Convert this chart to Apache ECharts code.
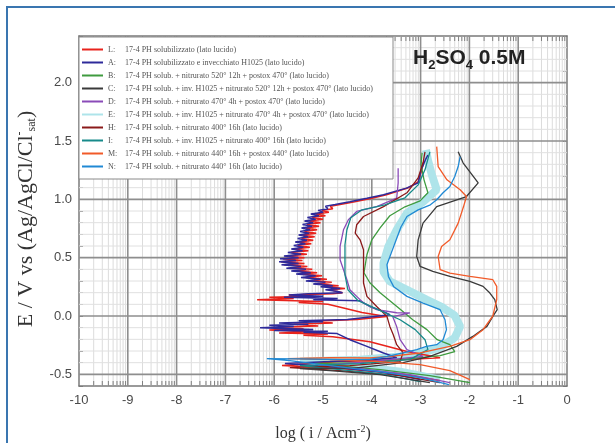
<!DOCTYPE html>
<html lang="it">
<head>
    <meta charset="UTF-8">
    <title>Curve di polarizzazione H2SO4 0.5M</title>
    <script src="https://cdn.jsdelivr.net/npm/echarts@6.0.0/dist/echarts.min.js"></script>
    <style type="text/css">
        html, body {
            margin: 0;
            padding: 0;
            background: #fff;
        }

        #chart {
            width: 615px;
            height: 443px;
        }
    </style>
</head>
<body>
<div id="chart"></div>
<script type="text/javascript">
    // sigle delle curve e testo della legenda
    const seriesNames = ['L', 'A', 'B', 'C', 'D', 'E', 'H', 'I', 'M', 'N'];
    const legendTexts = [
        '17-4 PH solubilizzato (lato lucido)',
        '17-4 PH solubilizzato e invecchiato H1025 (lato lucido)',
        '17-4 PH solub. + nitrurato 520° 12h + postox 470° (lato lucido)',
        '17-4 PH solub. + inv. H1025 + nitrurato 520° 12h + postox 470° (lato lucido)',
        '17-4 PH solub. + nitrurato 470° 4h + postox 470° (lato lucido)',
        '17-4 PH solub. + inv. H1025 + nitrurato 470° 4h + postox 470° (lato lucido)',
        '17-4 PH solub. + nitrurato 400° 16h (lato lucido)',
        '17-4 PH solub. + inv. H1025 + nitrurato 400° 16h (lato lucido)',
        '17-4 PH solub. + nitrurato 440° 16h + postox 440° (lato lucido)',
        '17-4 PH solub. + nitrurato 440° 16h (lato lucido)'
    ];
    const seriesColors = ['#e8231c', '#2e2a9a', '#3f9b3f', '#3a3a3a', '#8a4bb8',
        '#aee4ea', '#8b1a1a', '#178a8a', '#f15a29', '#2089d4'];

    // [log(i / Acm-2), E / V]
    const curveL = [[-2.60, -0.554], [-3.42, -0.494], [-4.65, -0.451], [-5.84, -0.425], [-4.65, -0.391],
        [-3.42, -0.374], [-2.60, -0.357], [-3.28, -0.305], [-4.04, -0.22], [-4.80, -0.177],
        [-5.4, -0.165], [-4.9, -0.155], [-5.9, -0.145], [-5.2, -0.135], [-6.1, -0.12], [-5.4, -0.11],
        [-5.9, -0.095], [-5.1, -0.085], [-5.6, -0.07], [-4.8, -0.06], [-5.2, -0.045], [-4.3, -0.03],
        [-3.7, -0.005], [-4.2, 0.03], [-4.6, 0.07], [-4.9, 0.10],
        [-5.5, 0.115], [-5.0, 0.125], [-6.35, 0.14], [-5.6, 0.15], [-6.1, 0.16], [-5.2, 0.17],
        [-5.7, 0.18], [-4.8, 0.19], [-4.6, 0.20],
        [-4.60, 0.21], [-4.85, 0.225], [-4.55, 0.235], [-4.95, 0.25], [-4.68, 0.26], [-5.10, 0.275],
        [-4.82, 0.29], [-5.25, 0.30], [-4.92, 0.315], [-5.35, 0.33], [-5.02, 0.345], [-5.45, 0.36],
        [-5.12, 0.37], [-5.55, 0.385], [-5.22, 0.40], [-5.68, 0.41], [-5.32, 0.425], [-5.80, 0.44],
        [-5.38, 0.45], [-5.86, 0.465], [-5.42, 0.475], [-5.82, 0.49], [-5.38, 0.50], [-5.74, 0.515],
        [-5.33, 0.53], [-5.65, 0.545], [-5.30, 0.56], [-5.58, 0.575], [-5.27, 0.59], [-5.52, 0.605],
        [-5.24, 0.62], [-5.48, 0.635], [-5.20, 0.65], [-5.44, 0.665], [-5.17, 0.68], [-5.42, 0.695],
        [-5.14, 0.71], [-5.38, 0.725], [-5.12, 0.74], [-5.35, 0.755], [-5.08, 0.77], [-5.33, 0.785],
        [-5.05, 0.80], [-5.28, 0.815], [-5.00, 0.83], [-5.22, 0.845], [-4.95, 0.86], [-5.15, 0.875],
        [-4.88, 0.89], [-5.02, 0.905], [-4.80, 0.92], [-4.85, 0.94], [-4.65, 0.955], [-4.35, 0.98],
        [-4.00, 1.01], [-3.70, 1.04], [-3.25, 1.10], [-3.05, 1.15], [-2.98, 1.25], [-2.93, 1.33]];
    const curveA = [[-3.01, -0.545], [-3.83, -0.477], [-4.86, -0.434], [-5.78, -0.408], [-4.86, -0.391],
        [-4.04, -0.374], [-3.49, -0.357], [-3.76, -0.317], [-4.10, -0.26], [-4.45, -0.203], [-4.71, -0.151],
        [-5.4, -0.14], [-4.9, -0.13], [-6.0, -0.125], [-5.2, -0.115], [-6.29, -0.10], [-5.6, -0.09],
        [-6.1, -0.08], [-5.3, -0.07], [-5.9, -0.06], [-5.0, -0.05], [-5.5, -0.04], [-4.5, -0.03],
        [-3.63, 0.011], [-3.77, 0.04], [-4.04, 0.082], [-4.24, 0.13],
        [-5.2, 0.14], [-4.7, 0.15], [-5.8, 0.16], [-5.0, 0.17], [-5.7, 0.18], [-5.3, 0.19], [-4.6, 0.20],
        [-4.70, 0.21], [-4.95, 0.225], [-4.65, 0.235], [-5.05, 0.25], [-4.80, 0.26], [-5.20, 0.275],
        [-4.95, 0.29], [-5.35, 0.30], [-5.05, 0.315], [-5.45, 0.33], [-5.15, 0.345], [-5.55, 0.36],
        [-5.25, 0.37], [-5.65, 0.385], [-5.35, 0.40], [-5.75, 0.41], [-5.45, 0.425], [-5.85, 0.44],
        [-5.50, 0.45], [-5.90, 0.465], [-5.55, 0.475], [-5.88, 0.49], [-5.50, 0.50], [-5.80, 0.515],
        [-5.45, 0.53], [-5.72, 0.545], [-5.42, 0.56], [-5.65, 0.575], [-5.40, 0.59], [-5.60, 0.605],
        [-5.36, 0.62], [-5.57, 0.635], [-5.33, 0.65], [-5.52, 0.665], [-5.30, 0.68], [-5.50, 0.695],
        [-5.28, 0.71], [-5.47, 0.725], [-5.26, 0.74], [-5.44, 0.755], [-5.22, 0.77], [-5.42, 0.785],
        [-5.20, 0.80], [-5.38, 0.815], [-5.15, 0.83], [-5.32, 0.845], [-5.08, 0.86], [-5.25, 0.875],
        [-5.00, 0.89], [-5.10, 0.905], [-4.90, 0.92], [-4.95, 0.94], [-4.75, 0.955], [-4.45, 0.98],
        [-4.10, 1.01], [-3.76, 1.04], [-3.29, 1.096], [-3.05, 1.141], [-2.99, 1.25], [-2.90, 1.34],
        [-2.85, 1.38]];
    const curveB = [[-1.99, -0.571], [-2.81, -0.511], [-3.83, -0.46], [-5.16, -0.408], [-4.24, -0.40],
        [-3.42, -0.374], [-2.60, -0.34], [-2.30, -0.305], [-2.40, -0.246], [-2.66, -0.203], [-2.87, -0.117],
        [-3.16, -0.032], [-3.48, 0.08], [-3.83, 0.20], [-4.04, 0.285], [-4.16, 0.371], [-4.10, 0.525],
        [-4.00, 0.653], [-3.83, 0.756], [-3.63, 0.859], [-3.32, 0.936], [-3.01, 0.987], [-2.85, 1.056],
        [-2.93, 1.167], [-2.99, 1.296], [-2.97, 1.398]];
    const curveC = [[-2.81, -0.571], [-3.83, -0.502], [-4.86, -0.468], [-5.47, -0.451], [-4.31, -0.445],
        [-3.36, -0.40], [-2.81, -0.346], [-2.26, -0.26], [-1.93, -0.175], [-1.64, -0.089], [-1.52, -0.003],
        [-1.43, 0.054], [-1.48, 0.14], [-1.58, 0.197], [-1.72, 0.254], [-1.99, 0.296], [-2.40, 0.339],
        [-2.75, 0.382], [-3.01, 0.425], [-3.08, 0.51], [-3.05, 0.653], [-2.95, 0.796], [-2.67, 0.938],
        [-2.06, 1.024], [-1.82, 1.141], [-2.13, 1.313], [-2.23, 1.407]];
    const curveD = [[-2.40, -0.571], [-3.22, -0.502], [-4.24, -0.451], [-5.10, -0.425], [-4.04, -0.391],
        [-3.22, -0.357], [-2.95, -0.346], [-3.28, -0.288], [-3.42, -0.203], [-3.49, -0.091], [-3.57, -0.006],
        [-3.22, 0.026], [-3.49, 0.028], [-3.90, 0.054], [-4.17, 0.111], [-4.31, 0.168], [-4.45, 0.225],
        [-4.51, 0.311], [-4.65, 0.482], [-4.65, 0.596], [-4.58, 0.739], [-4.48, 0.825], [-4.31, 0.896],
        [-3.90, 0.938], [-3.49, 1.010], [-3.46, 1.141], [-3.46, 1.267]];
    const curveE = [[-2.60, -0.545], [-3.42, -0.477], [-4.45, -0.425], [-5.47, -0.391], [-4.24, -0.374],
        [-3.22, -0.34], [-2.60, -0.271], [-2.30, -0.186], [-2.19, -0.091], [-2.30, 0.003], [-2.54, 0.071],
        [-2.88, 0.14], [-3.28, 0.225], [-3.63, 0.296], [-3.76, 0.379], [-3.76, 0.454], [-3.66, 0.596],
        [-3.49, 0.739], [-3.28, 0.882], [-2.94, 0.981], [-2.67, 1.082], [-2.77, 1.21], [-2.85, 1.338],
        [-2.89, 1.424]];
    const curveH = [[-2.60, -0.571], [-3.42, -0.511], [-4.65, -0.468], [-5.68, -0.443], [-4.45, -0.425],
        [-3.42, -0.391], [-3.36, -0.314], [-3.49, -0.246], [-3.56, -0.16], [-3.63, -0.089], [-3.69, -0.003],
        [-3.90, 0.082], [-4.10, 0.168], [-4.17, 0.283], [-4.17, 0.425], [-4.17, 0.568], [-4.24, 0.653],
        [-4.34, 0.71], [-4.31, 0.782], [-4.17, 0.853], [-3.76, 0.938], [-3.28, 1.056], [-3.05, 1.184],
        [-2.95, 1.313], [-2.91, 1.407]];
    const curveI = [[-3.01, -0.562], [-3.83, -0.494], [-4.86, -0.451], [-5.47, -0.425], [-4.24, -0.408],
        [-3.22, -0.374], [-2.85, -0.288], [-2.91, -0.203], [-3.11, -0.117], [-3.42, -0.032], [-3.87, 0.054],
        [-4.28, 0.131], [-4.49, 0.225], [-4.55, 0.354], [-4.55, 0.482], [-4.55, 0.611], [-4.51, 0.739],
        [-4.43, 0.842], [-4.20, 0.91], [-3.73, 0.953], [-3.32, 1.013], [-3.05, 1.124], [-2.91, 1.253],
        [-2.81, 1.407]];
    const curveM = [[-1.99, -0.545], [-2.40, -0.468], [-3.01, -0.417], [-3.83, -0.391], [-4.86, -0.374],
        [-5.72, -0.365], [-4.86, -0.357], [-4.04, -0.36], [-3.63, -0.346], [-3.01, -0.317], [-2.40, -0.26],
        [-1.99, -0.203], [-1.72, -0.117], [-1.52, 0.0], [-1.44, 0.14], [-1.44, 0.254], [-1.52, 0.311],
        [-1.99, 0.339], [-2.40, 0.368], [-2.60, 0.397], [-2.64, 0.51], [-2.57, 0.596], [-2.40, 0.653],
        [-2.23, 0.796], [-2.12, 0.938], [-2.06, 1.024], [-2.19, 1.082], [-2.46, 1.167], [-2.64, 1.281],
        [-2.67, 1.452]];
    const curveN = [[-2.42, -0.588], [-3.01, -0.528], [-3.83, -0.477], [-4.86, -0.425], [-5.68, -0.383],
        [-6.15, -0.365], [-5.47, -0.367], [-4.65, -0.374], [-4.04, -0.372], [-3.69, -0.346], [-3.36, -0.317],
        [-3.08, -0.288], [-2.88, -0.26], [-2.67, -0.246], [-2.54, -0.203], [-2.47, -0.117], [-2.50, -0.032],
        [-2.60, 0.054], [-2.95, 0.111], [-3.28, 0.168], [-3.55, 0.25], [-3.66, 0.339], [-3.69, 0.44],
        [-3.60, 0.542], [-3.50, 0.653], [-3.40, 0.765], [-3.28, 0.853], [-3.05, 0.91], [-2.80, 0.953],
        [-2.67, 0.996], [-2.54, 1.056], [-2.40, 1.110], [-2.30, 1.195], [-2.23, 1.281], [-2.19, 1.367]];

    const curves = {L: curveL, A: curveA, B: curveB, C: curveC, D: curveD,
        E: curveE, H: curveH, I: curveI, M: curveM, N: curveN};
    // ordine di disegno (l'ultima sopra)
    const drawOrder = ['E', 'L', 'A', 'B', 'D', 'H', 'I', 'C', 'M', 'N'];

    // griglia logaritmica: linee minori 2..9 per decade, linee 0.1 V, principali 0.5 V e decadi
    const gridMarks = [];
    for (let d = -10; d < 0; d++) {
        for (let k = 2; k <= 9; k++) gridMarks.push([0, d + Math.log10(k)]);
    }
    for (let t = -5; t <= 23; t++) {
        if (t % 5 !== 0) gridMarks.push([1, t / 10]);
    }
    for (let t = -5; t <= 20; t += 5) gridMarks.push([2, t / 10]);
    for (let d = -9; d <= -1; d++) gridMarks.push([3, d]);

    const chart = echarts.init(document.getElementById('chart'), null, {renderer: 'canvas'});

    function renderGrid(params, api) {
        const kind = api.value(0);
        const v = api.value(1);
        if (kind === 0) {
            const p0 = api.coord([v, -0.6]);
            const p1 = api.coord([v, 2.4]);
            return {
                type: 'group', children: [
                    {type: 'line', shape: {x1: p0[0], y1: p0[1], x2: p1[0], y2: p1[1]},
                        style: {stroke: '#dcdcdc', lineWidth: 1}},
                    {type: 'line', shape: {x1: p0[0], y1: p0[1], x2: p0[0], y2: p0[1] - 5},
                        style: {stroke: '#808080', lineWidth: 1}},
                    {type: 'line', shape: {x1: p1[0], y1: p1[1], x2: p1[0], y2: p1[1] + 5},
                        style: {stroke: '#808080', lineWidth: 1}}
                ]
            };
        }
        if (kind === 3) {
            const p0 = api.coord([v, -0.6]);
            const p1 = api.coord([v, 2.4]);
            return {type: 'line', shape: {x1: p0[0], y1: p0[1], x2: p1[0], y2: p1[1]},
                style: {stroke: '#8e8e8e', lineWidth: 1.6}};
        }
        const q0 = api.coord([-10, v]);
        const q1 = api.coord([0, v]);
        return {type: 'line', shape: {x1: q0[0], y1: q0[1], x2: q1[0], y2: q1[1]},
            style: kind === 2 ? {stroke: '#8e8e8e', lineWidth: 1.6} : {stroke: '#e0e0e0', lineWidth: 1}};
    }

    const lineSeries = drawOrder.map(name => {
        const idx = seriesNames.indexOf(name);
        return {
            name: name,
            type: 'line',
            data: curves[name],
            showSymbol: false,
            symbol: 'none',
            smooth: false,
            color: seriesColors[idx],
            lineStyle: {color: seriesColors[idx], width: name === 'E' ? 8 : (name === 'L' || name === 'A' ? 1.5 : 1.3)},
            z: 3
        };
    });

    const axisFont = 'Liberation Sans';
    const serifFont = 'Liberation Serif';

    const option = {
        animation: false,
        backgroundColor: '#fff',
        title: {
            text: '{a|H}{s|2}{a|SO}{s|4}{a| 0.5M}',
            left: 413,
            top: 44,
            padding: 0,
            textStyle: {
                rich: {
                    a: {fontSize: 21, fontWeight: 'bold', fontFamily: axisFont, color: '#222', lineHeight: 28},
                    s: {fontSize: 13, fontWeight: 'bold', fontFamily: axisFont, color: '#222',
                        lineHeight: 13, verticalAlign: 'bottom'}
                }
            }
        },
        legend: {
            data: seriesNames,
            orient: 'vertical',
            left: 79,
            top: 37,
            padding: [8, 6, 8, 3],
            itemGap: 4,
            itemWidth: 21,
            itemHeight: 2,
            icon: 'rect',
            backgroundColor: '#fff',
            borderColor: '#8a8a8a',
            borderWidth: 1,
            formatter: name => '{k|' + name + ':}{t|' + legendTexts[seriesNames.indexOf(name)] + '}',
            textStyle: {
                lineHeight: 9,
                rich: {
                    k: {width: 17, fontSize: 8, fontFamily: serifFont, color: '#555', lineHeight: 9},
                    t: {width: 262, fontSize: 8, fontFamily: serifFont, color: '#555', lineHeight: 9}
                }
            }
        },
        graphic: [
            {type: 'line', shape: {x1: 7, y1: 7, x2: 615, y2: 7}, style: {stroke: '#3a76b0', lineWidth: 2}},
            {type: 'line', shape: {x1: 7, y1: 6, x2: 7, y2: 443}, style: {stroke: '#3a76b0', lineWidth: 2}}
        ],
        grid: {left: 79, right: 48, top: 36, bottom: 57, containLabel: false, outerBoundsMode: 'none'},
        xAxis: [{
            type: 'value',
            min: -10,
            max: 0,
            interval: 1,
            position: 'bottom',
            axisLine: {show: true, onZero: false, lineStyle: {color: '#7a7a7a', width: 1.5}},
            axisTick: {show: false},
            splitLine: {show: false},
            axisLabel: {margin: 8, fontSize: 13, fontFamily: axisFont, color: '#4a4a4a'},
            name: '{n|log ( i / Acm}{sup|-2}{n|)}',
            nameLocation: 'middle',
            nameGap: 38,
            nameTextStyle: {
                rich: {
                    n: {fontSize: 16, fontFamily: serifFont, color: '#333', lineHeight: 20},
                    sup: {fontSize: 10, fontFamily: serifFont, color: '#333', lineHeight: 10, verticalAlign: 'top'}
                }
            }
        }, {
            type: 'value',
            min: -10,
            max: 0,
            interval: 1,
            position: 'top',
            axisLine: {show: true, onZero: false, lineStyle: {color: '#7a7a7a', width: 1.5}},
            axisTick: {show: false},
            splitLine: {show: false},
            axisLabel: {show: false}
        }],
        yAxis: [{
            type: 'value',
            min: -0.6,
            max: 2.4,
            interval: 0.1,
            position: 'left',
            axisLine: {show: true, onZero: false, lineStyle: {color: '#7a7a7a', width: 1.5}},
            axisTick: {show: true, inside: true, length: 4, lineStyle: {color: '#7a7a7a'}},
            splitLine: {show: false},
            axisLabel: {
                margin: 7, fontSize: 13, fontFamily: axisFont, color: '#4a4a4a',
                formatter: v => {
                    const t = Math.round(v * 10);
                    return t % 5 === 0 ? (t / 10).toFixed(1) : '';
                }
            },
            name: '{n|E / V vs (Ag/AgCl/Cl}{sup|-}{sub|sat}{n|)}',
            nameLocation: 'middle',
            nameGap: 41,
            nameTextStyle: {
                padding: [0, 16, 0, 0],
                rich: {
                    n: {fontSize: 22, fontFamily: serifFont, color: '#333', lineHeight: 24},
                    sup: {fontSize: 12, fontFamily: serifFont, color: '#333', lineHeight: 12, verticalAlign: 'top'},
                    sub: {fontSize: 12, fontFamily: serifFont, color: '#333', lineHeight: 12, verticalAlign: 'bottom'}
                }
            }
        }, {
            type: 'value',
            min: -0.6,
            max: 2.4,
            interval: 0.1,
            position: 'right',
            axisLine: {show: true, onZero: false, lineStyle: {color: '#7a7a7a', width: 1.5}},
            axisTick: {show: true, inside: true, length: 4, lineStyle: {color: '#7a7a7a'}},
            splitLine: {show: false},
            axisLabel: {show: false}
        }],
        series: [{
            name: 'griglia',
            type: 'custom',
            coordinateSystem: 'cartesian2d',
            xAxisIndex: 0,
            yAxisIndex: 0,
            silent: true,
            z: 1,
            data: gridMarks,
            renderItem: renderGrid
        }].concat(lineSeries)
    };

    chart.setOption(option);
</script>
</body>
</html>
